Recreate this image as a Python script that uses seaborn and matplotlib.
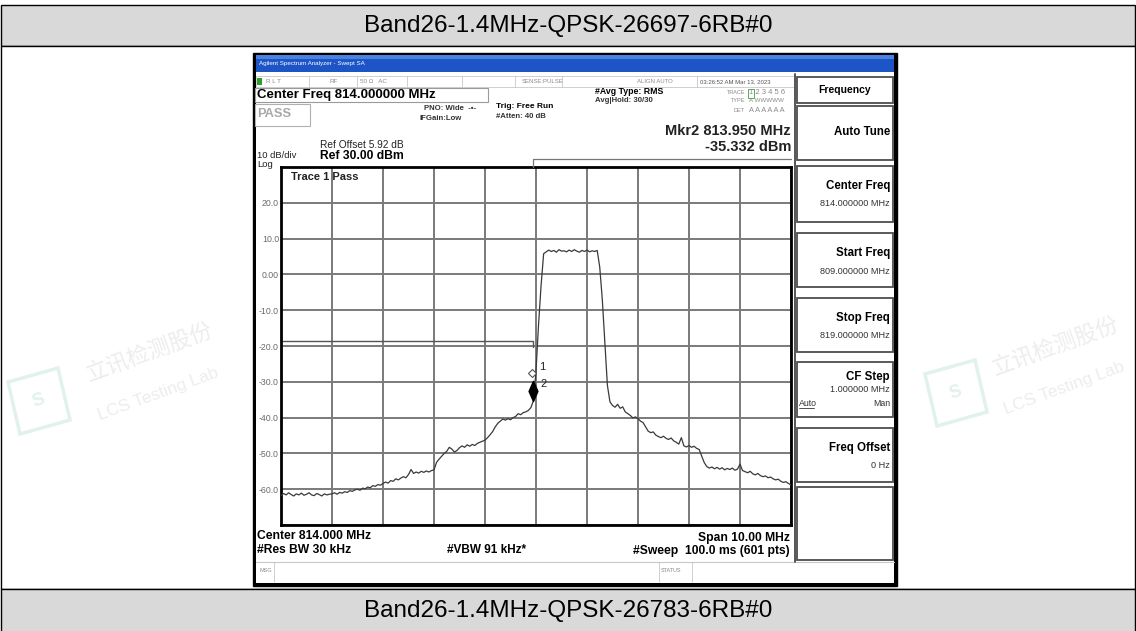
import numpy as np
import pandas as pd
import matplotlib
matplotlib.use("Agg")
import matplotlib.pyplot as plt
import seaborn as sns
from matplotlib.patches import Rectangle, Polygon
from matplotlib.path import Path

# =====================================================
# Data (809 - 819 MHz, 0.05 MHz steps)
# =====================================================
top_title = "Band26-1.4MHz-QPSK-26697-6RB#0"
bottom_title = "Band26-1.4MHz-QPSK-26783-6RB#0"

start_mhz = 809.0
stop_mhz = 819.0
step_mhz = 0.05

lvl_809 = [-61.8, -61.2, -61.6, -61.0, -61.5, -61.9, -61.3, -61.6, -61.1, -61.7,
           -61.4, -61.0, -61.6, -61.8, -61.2, -61.5, -61.9, -61.3, -61.6, -61.4]
lvl_810 = [-61.3, -61.0, -61.4, -60.9, -61.1, -60.7, -60.9, -60.4, -60.6, -60.2,
           -60.0, -60.3, -59.7, -59.9, -59.4, -59.6, -59.0, -59.2, -58.7, -58.9]
lvl_811 = [-58.4, -58.0, -58.3, -57.6, -57.8, -57.1, -57.4, -56.9, -56.5, -56.8,
           -55.9, -54.5, -55.6, -55.2, -55.5, -55.0, -55.3, -54.9, -55.2, -54.8]
lvl_812 = [-54.6, -52.5, -51.6, -50.8, -50.0, -49.4, -48.3, -48.8, -49.6, -49.2,
           -48.4, -47.9, -48.3, -47.6, -48.0, -47.5, -47.8, -47.2, -46.9, -46.6]
lvl_813 = [-46.3, -45.6, -44.8, -43.9, -42.6, -41.6, -41.0, -40.4, -40.7, -40.3,
           -40.6, -40.0, -39.7, -38.9, -39.2, -38.6, -38.4, -38.0, -37.2, -35.3]
lvl_814 = [-27.0, -14.0, -3.0, 5.8, 6.3, 6.8, 6.4, 6.7, 6.2, 6.9,
           6.5, 6.6, 6.3, 6.8, 6.4, 6.9, 6.5, 6.2, 6.7, 6.4]
lvl_815 = [6.8, 6.3, 6.6, 6.4, 6.7, 2.0, -7.0, -19.0, -31.0, -35.6,
           -36.6, -37.1, -36.3, -37.4, -37.0, -38.4, -38.9, -39.4, -40.1, -39.8]
lvl_816 = [-40.3, -41.0, -41.4, -42.6, -43.8, -44.2, -44.0, -44.9, -45.3, -45.6,
           -45.2, -45.8, -46.1, -45.7, -46.5, -46.9, -47.4, -45.6, -47.9, -48.2]
lvl_817 = [-47.8, -48.3, -48.0, -48.6, -48.9, -50.8, -52.6, -53.7, -54.1, -53.8,
           -54.3, -53.9, -54.4, -54.0, -54.6, -54.2, -54.5, -54.1, -54.7, -54.4]
lvl_818 = [-53.0, -54.8, -55.1, -55.4, -55.0, -55.7, -56.0, -55.6, -56.2, -56.5,
           -56.3, -56.8, -56.6, -57.1, -57.4, -57.2, -57.8, -58.1, -57.9, -58.4]
lvl_819 = [-58.8]

trace_dbm = lvl_809 + lvl_810 + lvl_811 + lvl_812 + lvl_813 + lvl_814 + \
            lvl_815 + lvl_816 + lvl_817 + lvl_818 + lvl_819
freq_mhz = start_mhz + step_mhz * np.arange(len(trace_dbm))

# limit / display line
limit_freq = [809.0, 813.95, 813.95]
limit_dbm = [-18.6, -18.6, -20.3]

# markers
mkr1_freq, mkr1_dbm = 813.93, -27.5
mkr2_freq, mkr2_dbm = 813.95, -35.332

ref_level = 30
y_bottom = -70
ytick_values = [30, 20, 10, 0, -10, -20, -30, -40, -50, -60, -70]
ytick_labels = ["", "20.0", "10.0", "0.00", "-10.0", "-20.0", "-30.0",
                "-40.0", "-50.0", "-60.0", ""]

softkeys = [("Frequency", None), ("Auto Tune", None),
            ("Center Freq", "814.000000 MHz"), ("Start Freq", "809.000000 MHz"),
            ("Stop Freq", "819.000000 MHz"), ("CF Step", "1.000000 MHz"),
            ("Freq Offset", "0 Hz"), ("", None)]

df = pd.DataFrame({"freq": freq_mhz, "level": trace_dbm})

# =====================================================
# Figure
# =====================================================
sns.set_style("white")
plt.rcParams['font.family'] = ['Liberation Sans', 'Noto Sans CJK SC', 'DejaVu Sans']

W, H = 1136, 631
fig = plt.figure(figsize=(W / 100, H / 100), dpi=100)
fig.patch.set_facecolor("white")

bg = fig.add_axes([0, 0, 1, 1])
bg.set_xlim(0, W)
bg.set_ylim(H, 0)
bg.axis("off")


def box(x0, y0, x1, y1, fc="none", ec="black", lw=1.0, z=1):
    bg.add_patch(Rectangle((x0, y0), x1 - x0, y1 - y0, facecolor=fc,
                           edgecolor=ec, linewidth=lw, zorder=z))


def txt(x, y, s, size, ha="left", weight="normal", color="black", z=5, **kw):
    bg.text(x, y, s, fontsize=size, ha=ha, va="center", fontweight=weight,
            color=color, zorder=z, **kw)


# ---- document table ----
box(0.5, 5, W - 1.5, 46, fc="#d9d9d9", ec="black", lw=1)
box(0.5, 46, W - 1.5, 589, fc="white", ec="black", lw=1)
box(0.5, 589, W - 1.5, H + 5, fc="#d9d9d9", ec="black", lw=1)
txt(W / 2, 26, top_title, 17.5, ha="center")
txt(W / 2, 611, bottom_title, 17.5, ha="center")

# ---- faint watermarks ----
wm = "#ededed"
for cx, cy in [(150, 352), (1056, 346)]:
    txt(cx, cy, "立讯检测股份", 16, ha="center", color=wm, rotation=20, z=1.05)
    txt(cx + 8, cy + 42, "LCS Testing Lab", 12.5, ha="center", color=wm,
        rotation=20, z=1.05)
for lx, ly in [(8, 382), (925, 374)]:
    bg.add_patch(Polygon([(lx, ly), (lx + 50, ly - 14), (lx + 62, ly + 38),
                          (lx + 12, ly + 52)], closed=True, facecolor="none",
                         edgecolor="#e1f2eb", lw=2.5, zorder=1.05))
    txt(lx + 31, ly + 19, "S", 13, ha="center", color="#e1f2eb", rotation=20,
        weight="bold", z=1.05)

# ---- analyzer screenshot frame ----
box(253, 53, 897, 586, fc="black", ec="black", lw=1, z=1.1)
box(256, 72, 894, 583, fc="white", ec="none", lw=0, z=1.15)
box(256, 55, 894, 72, fc="#1d55c6", ec="none", lw=0, z=1.2)
box(256, 55, 894, 59, fc="#4a82e0", ec="none", lw=0, z=1.3)
txt(259, 64, "Agilent Spectrum Analyzer - Swept SA", 4.5, color="white", z=2)

# status row
box(256, 76, 794, 87, fc="white", ec="#c8c8c8", lw=0.6, z=1.5)
for sx in [309, 357, 407, 462, 515, 562, 697]:
    bg.plot([sx, sx], [76, 87], color="#c8c8c8", lw=0.6, zorder=1.6)
box(257, 78, 262, 85, fc="#2e9e2e", ec="none", z=2)
gray = "#8a8a8a"
txt(266, 81.5, "R L T", 4.5, color=gray)
txt(330, 81.5, "RF", 4.5, color=gray)
txt(360, 81.5, "50 Ω   AC", 4.5, color=gray)
txt(522, 81.5, "SENSE:PULSE", 4.3, color=gray)
txt(637, 81.5, "ALIGN AUTO", 4.3, color=gray)
txt(700, 81.5, "03:26:52 AM Mar 13, 2023", 4.3, color="#555555")

# header block
box(255, 88, 488, 102, fc="white", ec="#9a9a9a", lw=0.8, z=1.5)
txt(257, 95, "Center Freq 814.000000 MHz", 9.5, weight="bold")
box(255, 104, 310, 126, fc="white", ec="#b0b0b0", lw=0.8, z=1.5)
txt(257, 114, "PASS", 9.3, weight="bold", color="#a8a8a8")
txt(424, 108, "PNO: Wide  -•-", 5.6, weight="bold", color="#333333")
txt(419, 118, "IFGain:Low", 5.6, weight="bold", color="#333333")
txt(496, 106, "Trig: Free Run", 6.0, weight="bold")
txt(496, 116, "#Atten: 40 dB", 5.6, weight="bold", color="#333333")
txt(595, 92, "#Avg Type: RMS", 6.3, weight="bold")
txt(595, 100, "Avg|Hold: 30/30", 5.6, weight="bold", color="#333333")
txt(745, 93, "TRACE", 4.0, ha="right", color=gray)
txt(749, 93, "1 2 3 4 5 6", 5.5, color=gray)
box(747.5, 88.5, 754, 97.5, ec="#3aa03a", lw=0.6, z=2)
txt(745, 101, "TYPE", 4.0, ha="right", color=gray)
txt(749, 101, "A WWWWW", 4.5, color=gray)
txt(745, 110, "DET", 4.0, ha="right", color=gray)
txt(749, 110, "A A A A A A", 5.3, color=gray)

txt(791, 131, "Mkr2 813.950 MHz", 10.5, ha="right", weight="bold", color="#222222")
txt(791, 147, "-35.332 dBm", 10.5, ha="right", weight="bold", color="#222222")
txt(320, 145, "Ref Offset 5.92 dB", 7.3, color="#222222")
txt(257, 155.5, "10 dB/div", 6.8, color="#222222")
txt(320, 156, "Ref 30.00 dBm", 8.7, weight="bold")
txt(257, 164.5, "Log", 6.8, color="#222222")

# bottom annotations
txt(257, 536, "Center 814.000 MHz", 8.7, weight="bold")
txt(257, 550, "#Res BW 30 kHz", 8.7, weight="bold")
txt(447, 550, "#VBW 91 kHz*", 8.5, weight="bold")
txt(790, 538, "Span 10.00 MHz", 8.7, ha="right", weight="bold")
txt(790, 551, "#Sweep  100.0 ms (601 pts)", 8.7, ha="right", weight="bold")
bg.plot([256, 894], [562, 562], color="#c8c8c8", lw=0.8, zorder=1.6)
for sx in [274, 659, 692]:
    bg.plot([sx, sx], [562, 582], color="#c8c8c8", lw=0.6, zorder=1.6)
txt(259, 571, "MSG", 4.0, color=gray)
txt(661, 571, "STATUS", 4.0, color=gray)

# softkey panel
panel_y = [(77, 103), (106, 160), (166, 222), (233, 287), (298, 352),
           (362, 417), (428, 482), (487, 560)]
bg.plot([794.5, 794.5], [74, 562], color="#555555", lw=1.4, zorder=1.6)
for (label, sub), (y0, y1) in zip(softkeys, panel_y):
    box(797, y0, 893, y1, fc="white", ec="#4d4d4d", lw=1.3, z=1.5)
    if label == "Frequency":
        txt(845, (y0 + y1) / 2, label, 7.5, ha="center", weight="bold")
    elif label == "CF Step":
        txt(890, y0 + 15, label, 8.3, ha="right", weight="bold")
        txt(890, y0 + 28, sub, 6.6, ha="right", color="#333333")
        txt(799, y0 + 42, "Auto", 6.3, color="#333333")
        bg.plot([799, 814], [y0 + 46, y0 + 46], color="#333333", lw=0.6, zorder=2)
        txt(890, y0 + 42, "Man", 6.3, ha="right", color="#333333")
    elif sub is None and label:
        txt(890, (y0 + y1) / 2 - 1, label, 8.3, ha="right", weight="bold")
    elif label:
        txt(890, y0 + 20, label, 8.3, ha="right", weight="bold")
        txt(890, y0 + 38, sub, 6.6, ha="right", color="#333333")

# =====================================================
# Graticule with the trace
# =====================================================
ax = fig.add_axes([281 / W, 1 - 525 / H, 510 / W, 358 / H])
ax.set_facecolor("white")
ax.set_xlim(start_mhz, stop_mhz)
ax.set_ylim(y_bottom, ref_level)
ax.set_xticks(np.arange(start_mhz, stop_mhz + 0.5, 1.0))
ax.set_xticklabels([])
ax.set_yticks(ytick_values)
ax.set_yticklabels(ytick_labels)
ax.tick_params(axis="both", length=0)
ax.tick_params(axis="y", labelsize=6.3, labelcolor="#6a6a6a", pad=1.5)
ax.grid(True, color="#7a7a7a", linewidth=1.4)
ax.set_axisbelow(True)
for sp in ax.spines.values():
    sp.set_color("black")
    sp.set_linewidth(2.0)

sns.lineplot(data=df, x="freq", y="level", ax=ax, color="#3a3a3a",
             linewidth=0.9, estimator=None, legend=False, zorder=3)
ax.set_xlabel("")
ax.set_ylabel("")

ax.plot(limit_freq, limit_dbm, color="#555555", lw=1.0, zorder=2.5)
# marker position bar above the graticule
ax.plot([mkr2_freq, mkr2_freq, stop_mhz], [ref_level, ref_level + 2.2, ref_level + 2.2],
        color="#777777", lw=0.9, clip_on=False, zorder=3)

tall_diamond = Path([(0, 0), (0.22, 0.5), (0, 1), (-0.22, 0.5), (0, 0)],
                    [Path.MOVETO, Path.LINETO, Path.LINETO, Path.LINETO, Path.CLOSEPOLY])
ax.plot([mkr2_freq], [mkr2_dbm], marker=tall_diamond, markersize=29,
        color="black", zorder=4)
ax.plot([mkr1_freq], [mkr1_dbm], marker="D", markersize=4.5, mfc="white",
        mec="#555555", mew=0.8, zorder=4)
ax.annotate("1", (mkr1_freq, mkr1_dbm), xytext=(5, 4), textcoords="offset points",
            fontsize=8, color="#222222", va="center")
ax.annotate("2", (mkr2_freq, mkr2_dbm), xytext=(5, 12), textcoords="offset points",
            fontsize=8, color="#222222", va="center")

ax.text(0.02, 0.972, "Trace 1 Pass", transform=ax.transAxes, fontsize=8,
        fontweight="bold", va="center", color="#222222")

plt.savefig("out.png", dpi=100)
